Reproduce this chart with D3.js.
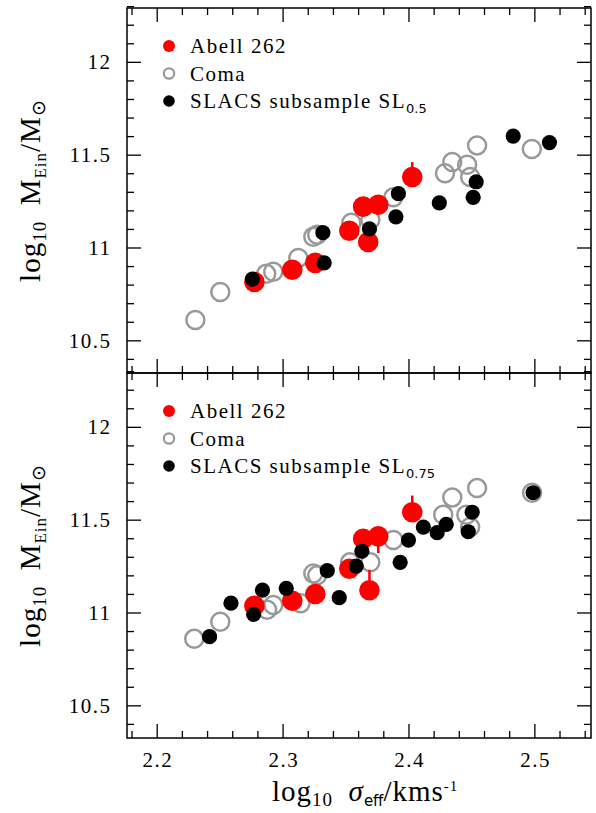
<!DOCTYPE html>
<html>
<head>
<meta charset="utf-8">
<script src="https://cdn.jsdelivr.net/npm/d3@7"></script>
<style>
  html, body { margin: 0; padding: 0; background: #fff; }
  svg text { font-family: "Liberation Serif", "Times New Roman", serif; fill: #000; }
</style>
</head>
<body>
<svg id="chart" width="596" height="813"></svg>
<script>
// ---- data: log10 sigma_eff (x) and log10 M_Ein (y) ----
// Upper panel: SL_0.5 subsample
const comaTopX  = [2.2307, 2.2505, 2.2870, 2.2926, 2.3125, 2.3244, 2.3275, 2.3546, 2.3697, 2.3880, 2.4290, 2.4348, 2.4466, 2.4490, 2.4545, 2.4980];
const comaTopY  = [10.61, 10.76, 10.858, 10.869, 10.944, 11.058, 11.068, 11.133, 11.150, 11.270, 11.400, 11.460, 11.446, 11.380, 11.550, 11.530];
const abellTopX = [2.2776, 2.3077, 2.3260, 2.3530, 2.3640, 2.3760, 2.3680, 2.4030];
const abellTopY = [10.814, 10.880, 10.917, 11.090, 11.220, 11.230, 11.030, 11.380];
const abellTopErrLo = [0, 0, 0, 0, 0, 0, 0, 0];
const abellTopErrHi = [0, 0, 0, 0, 0, 0, 0, 0.08];
const slacsTopX = [2.2760, 2.3320, 2.3330, 2.3690, 2.3920, 2.3900, 2.4245, 2.4538, 2.4514, 2.4832, 2.5120];
const slacsTopY = [10.830, 11.080, 10.917, 11.100, 11.290, 11.165, 11.240, 11.354, 11.270, 11.600, 11.565];

// Lower panel: SL_0.75 subsample
const comaBotX  = [2.2298, 2.2505, 2.2877, 2.2926, 2.3143, 2.3244, 2.3275, 2.3536, 2.3697, 2.3880, 2.4276, 2.4348, 2.4460, 2.4490, 2.4545, 2.4982];
const comaBotY  = [10.858, 10.950, 11.015, 11.040, 11.050, 11.210, 11.200, 11.270, 11.270, 11.390, 11.527, 11.620, 11.527, 11.460, 11.670, 11.645];
const abellBotX = [2.2776, 2.3077, 2.3260, 2.3530, 2.3640, 2.3760, 2.3690, 2.4030];
const abellBotY = [11.036, 11.063, 11.100, 11.236, 11.397, 11.410, 11.120, 11.540];
const abellBotErrLo = [0, 0, 0, 0, 0, 0.09, 0, 0];
const abellBotErrHi = [0, 0, 0, 0, 0, 0, 0.11, 0.09];
const slacsBotX = [2.2420, 2.2590, 2.2770, 2.2840, 2.3029, 2.3355, 2.3450, 2.3585, 2.3630, 2.3934, 2.4000, 2.4118, 2.4228, 2.4300, 2.4475, 2.4506, 2.4990];
const slacsBotY = [10.870, 11.050, 10.990, 11.120, 11.130, 11.225, 11.080, 11.250, 11.330, 11.270, 11.390, 11.460, 11.430, 11.475, 11.435, 11.540, 11.645];

// ---- axis ticks ----
const xMajor = [2.2, 2.3, 2.4, 2.5];
const xMinor = d3.range(2.18, 2.545, 0.02).map(v => +v.toFixed(2));
const yMajor = [10.5, 11, 11.5, 12];
const yMinor = d3.range(10.4, 12.3, 0.1).map(v => +v.toFixed(1));
const xTickLabels = ["2.2", "2.3", "2.4", "2.5"];
const yTickLabels = ["10.5", "11", "11.5", "12"];

const legendNames = ["Abell 262", "Coma", "SLACS subsample SL"];
const subsampleTags = ["0.5", "0.75"];

// ---- layout ----
const svg = d3.select("#chart");
const L = 127, R = 591, T = 8, M = 373, B = 738;
const x = d3.scaleLinear().domain([2.1764, 2.545]).range([L, R]);
const yDomain = [10.324, 12.29];

const RED = "#ff0000", GREY = "#999999";
const SERIF = "Liberation Serif, Times New Roman, serif";

function zip(xs, ys) { return xs.map((v, i) => ({ x: v, y: ys[i] })); }
const notMajor = (majors) => (v) => !majors.some(m => Math.abs(m - v) < 1e-6);

function drawPanel(top, bottom, d, tag, showX) {
  const y = d3.scaleLinear().domain(yDomain).range([bottom, top]);
  const g = svg.append("g");

  // inward ticks on all four sides
  const addAxis = (gen, tx, ty, vals, size, labels) => {
    const a = gen.tickValues(vals).tickSize(-size).tickPadding(labels ? 14 : 0)
      .tickFormat(labels ? ((v) => labels[vals.indexOf(v)]) : "");
    const ag = g.append("g").attr("transform", `translate(${tx},${ty})`).call(a);
    ag.attr("font-family", SERIF);
    ag.select(".domain").remove();
    ag.selectAll(".tick line").attr("stroke", "#000").attr("stroke-width", 1.3);
    ag.selectAll(".tick text").style("font-size", "21px").style("font-family", SERIF)
      .style("letter-spacing", "1.5px");
    return ag;
  };
  const xb = addAxis(d3.axisBottom(x), 0, bottom, xMajor, 14, showX ? xTickLabels : null);
  xb.selectAll(".tick text").attr("dx", "0.75px");
  addAxis(d3.axisBottom(x), 0, bottom, xMinor.filter(notMajor(xMajor)), 7, null);
  addAxis(d3.axisTop(x), 0, top, xMajor, 14, null);
  addAxis(d3.axisTop(x), 0, top, xMinor.filter(notMajor(xMajor)), 7, null);
  const yl = addAxis(d3.axisLeft(y), L, 0, yMajor, 14, yTickLabels);
  yl.selectAll(".tick text").attr("x", -15.5);
  addAxis(d3.axisLeft(y), L, 0, yMinor.filter(notMajor(yMajor)), 7, null);
  addAxis(d3.axisRight(y), R, 0, yMajor, 14, null);
  addAxis(d3.axisRight(y), R, 0, yMinor.filter(notMajor(yMajor)), 7, null);

  // frame
  g.append("rect").attr("x", L).attr("y", top).attr("width", R - L).attr("height", bottom - top)
    .attr("fill", "none").attr("stroke", "#000").attr("stroke-width", 1.5);

  // Coma: open grey circles
  g.append("g").selectAll("circle").data(d.coma).join("circle")
    .attr("cx", p => x(p.x)).attr("cy", p => y(p.y)).attr("r", 9)
    .attr("fill", "none").attr("stroke", GREY).attr("stroke-width", 2.5);

  // Abell 262: filled red with error bars
  g.append("g").selectAll("line").data(d.abell.filter(p => p.lo > 0 || p.hi > 0)).join("line")
    .attr("x1", p => x(p.x)).attr("x2", p => x(p.x))
    .attr("y1", p => y(p.y - p.lo)).attr("y2", p => y(p.y + p.hi))
    .attr("stroke", RED).attr("stroke-width", 2.5);
  g.append("g").selectAll("circle").data(d.abell).join("circle")
    .attr("cx", p => x(p.x)).attr("cy", p => y(p.y)).attr("r", 10.3)
    .attr("fill", RED);

  // SLACS: filled black
  g.append("g").selectAll("circle").data(d.slacs).join("circle")
    .attr("cx", p => x(p.x)).attr("cy", p => y(p.y)).attr("r", 7.6)
    .attr("fill", "#000");

  // legend
  const lx = 169, ly0 = top + 38, dy = 27.5;
  const lg = g.append("g");
  lg.append("circle").attr("cx", lx).attr("cy", ly0).attr("r", 6).attr("fill", RED);
  lg.append("circle").attr("cx", lx).attr("cy", ly0 + dy).attr("r", 5.2).attr("fill", "none")
    .attr("stroke", GREY).attr("stroke-width", 2.2);
  lg.append("circle").attr("cx", lx).attr("cy", ly0 + 2 * dy).attr("r", 5.8).attr("fill", "#000");
  legendNames.forEach((name, i) => {
    const t = lg.append("text").attr("x", 190).attr("y", ly0 + i * dy + 7)
      .style("font-size", "21px").style("letter-spacing", "1.5px").text(name);
    if (i === 2) t.append("tspan").attr("dy", 5).style("font-size", "13px")
      .style("font-family", "DejaVu Sans, sans-serif").style("letter-spacing", "0px").text(tag);
  });

  // y-axis title
  const cy = (top + bottom) / 2;
  const yt = g.append("text").attr("transform", `translate(40,${cy}) rotate(-90)`)
    .attr("text-anchor", "middle").style("font-size", "29px").style("letter-spacing", "1px");
  yt.append("tspan").text("log");
  yt.append("tspan").attr("dy", 6).style("font-size", "19px").text("10");
  yt.append("tspan").attr("dy", -6).text("\u2002M");
  yt.append("tspan").attr("dy", 6).style("font-size", "17px").text("Ein");
  yt.append("tspan").attr("dy", -6).text("/M");
  yt.append("tspan").attr("dy", 5).style("font-size", "19px").text("\u2299");
}

drawPanel(T, M, {
  coma: zip(comaTopX, comaTopY),
  abell: abellTopX.map((v, i) => ({ x: v, y: abellTopY[i], lo: abellTopErrLo[i], hi: abellTopErrHi[i] })),
  slacs: zip(slacsTopX, slacsTopY)
}, subsampleTags[0], false);

drawPanel(M, B, {
  coma: zip(comaBotX, comaBotY),
  abell: abellBotX.map((v, i) => ({ x: v, y: abellBotY[i], lo: abellBotErrLo[i], hi: abellBotErrHi[i] })),
  slacs: zip(slacsBotX, slacsBotY)
}, subsampleTags[1], true);

// x-axis title
const xt = svg.append("text").attr("x", 272).attr("y", 801)
  .style("font-size", "29px").style("letter-spacing", "1px");
xt.append("tspan").text("log");
xt.append("tspan").attr("dy", 5).style("font-size", "19px").text("10");
xt.append("tspan").attr("dy", -5).text("\u2002");
xt.append("tspan").style("font-style", "italic").text("\u03c3");
xt.append("tspan").attr("dy", 5).style("font-size", "15px")
  .style("font-family", "DejaVu Sans, sans-serif").style("letter-spacing", "0px").text("eff");
xt.append("tspan").attr("dy", -5).text("/kms");
xt.append("tspan").attr("dy", -10).style("font-size", "15px").text("-1");
</script>
</body>
</html>
